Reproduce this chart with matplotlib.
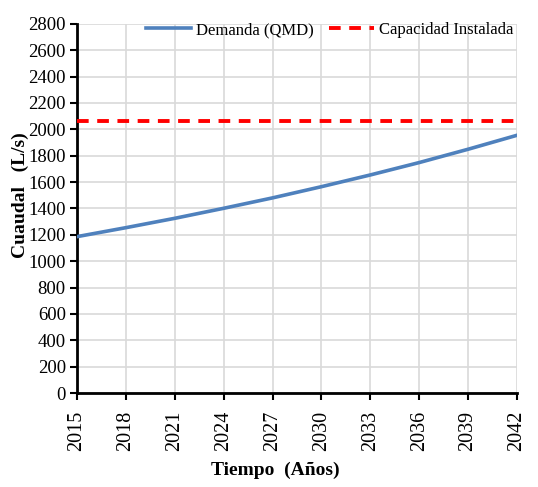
import matplotlib
matplotlib.use("Agg")
import matplotlib.pyplot as plt

plt.rcParams['font.family'] = ['Liberation Serif', 'DejaVu Serif']

# data
years = [2015, 2018, 2021, 2024, 2027, 2030, 2033, 2036, 2039, 2042]
demanda = [1186, 1254, 1325, 1401, 1480, 1565, 1654, 1748, 1849, 1955]
capacidad = 2060
yticks = list(range(0, 2801, 200))
xticks = years

fig = plt.figure(figsize=(5.38, 4.87), dpi=100)
ax = fig.add_axes([0.143, 0.193, 0.818, 0.758])

ax.plot(years, demanda, color='#4f81bd', lw=2.6, label='Demanda (QMD)', zorder=3)
ax.axhline(capacidad, color='#ff0000', lw=2.8, ls=(0, (3, 2.2)), label='Capacidad Instalada', zorder=3)

ax.set_xlim(2015, 2042)
ax.set_ylim(0, 2800)
ax.set_xticks(xticks)
ax.set_yticks(yticks)
ax.set_xticklabels([str(y) for y in xticks], rotation=90, fontsize=14.5)
ax.set_yticklabels([str(v) for v in yticks], fontsize=13.5)

ax.grid(True, color='#d9d9d9', lw=1.2)
ax.set_axisbelow(True)
for s in ['top', 'right']:
    ax.spines[s].set_visible(False)
for s in ['left', 'bottom']:
    ax.spines[s].set_linewidth(2)
ax.tick_params(direction='out', length=5, width=1.5)
ax.tick_params(axis='x', pad=8)
ax.tick_params(axis='y', pad=3)

ax.set_xlabel('Tiempo  (Años)', fontsize=14, fontweight='bold')
ax.xaxis.set_label_coords(0.45, -0.185)
ax.set_ylabel('Cuaudal   (L/s)', fontsize=14, fontweight='bold')
ax.yaxis.set_label_coords(-0.11, 0.535)

ax.legend(loc='upper center', bbox_to_anchor=(0.575, 1.045), ncol=2, frameon=False,
          fontsize=12, handlelength=2.7, columnspacing=0.9, handletextpad=0.3)

fig.savefig('out.png', dpi=100)
